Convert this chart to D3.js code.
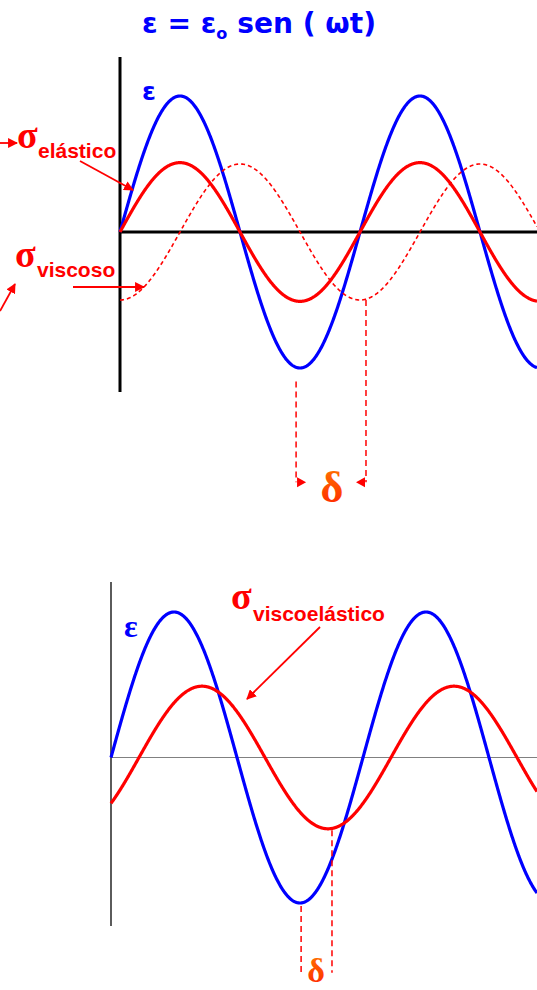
<!DOCTYPE html>
<html>
<head>
<meta charset="utf-8">
<script src="https://cdn.jsdelivr.net/npm/d3@7"></script>
<style>
  body { margin: 0; background: #fff; }
  svg { display: block; }
</style>
</head>
<body>
<svg id="chart"></svg>
<script>
// each curve is a sine in ωt: value = amplitude * sin(ωt + phase)
// top panel: strain, elastic stress, viscous stress
const topSeries = ["eps", "elastic", "viscous"];
const topAmplitude = [1, 0.51, 0.5];
const topPhaseDeg = [0, 0, -90];
// delta marker in top panel (ωt in rad, start value, end value)
const topDeltaT = [4.61, 6.44];
const topDeltaFrom = [-1.1, -0.5];
const topDeltaTo = -1.84;

// bottom panel: strain and viscoelastic stress
const botSeries = ["eps", "viscoelastic"];
const botAmplitude = [1, 0.49];
const botPhaseDeg = [0, -40];
const botDeltaT = [4.74, 5.51];
const botDeltaFrom = [-1.02, -0.5];
const botDeltaTo = -1.48;

const width = 537, height = 990;
const blue = "#0000ff", red = "#ff0000";
const style = {
  eps: {stroke: blue, width: 3.2, dash: null},
  elastic: {stroke: red, width: 3.2, dash: null},
  viscous: {stroke: red, width: 1.6, dash: "4,3"},
  viscoelastic: {stroke: red, width: 3.2, dash: null}
};

const svg = d3.select("#chart")
  .attr("width", width)
  .attr("height", height)
  .attr("viewBox", [0, 0, width, height]);

const defs = svg.append("defs");
defs.append("marker")
  .attr("id", "arrow")
  .attr("viewBox", "0 0 10 10")
  .attr("refX", 9).attr("refY", 5)
  .attr("markerWidth", 5.5).attr("markerHeight", 5.5)
  .attr("markerUnits", "strokeWidth")
  .attr("orient", "auto")
  .append("path")
  .attr("d", "M0,0L10,5L0,10z")
  .attr("fill", red);

// orange -> red fill of the delta glyphs
const grad = defs.append("linearGradient")
  .attr("id", "deltaFill")
  .attr("x1", 0).attr("y1", 0).attr("x2", 0).attr("y2", 1);
grad.append("stop").attr("offset", "0%").attr("stop-color", "#ff7a00");
grad.append("stop").attr("offset", "100%").attr("stop-color", "#ff2000");

const rad = d => d * Math.PI / 180;

function panel(g, opt) {
  const x = d3.scaleLinear([0, 2 * Math.PI], opt.xRange);
  const y = d3.scaleLinear([-1, 1], opt.yRange);
  const tMax = x.invert(width);
  const ts = d3.range(0, tMax, 0.01).concat([tMax]);

  // axes
  g.append("line")
    .attr("x1", x(0)).attr("x2", width)
    .attr("y1", y(0)).attr("y2", y(0))
    .attr("stroke", opt.hColor).attr("stroke-width", opt.hWidth);
  g.append("line")
    .attr("x1", x(0)).attr("x2", x(0))
    .attr("y1", opt.axisTop).attr("y2", opt.axisBottom)
    .attr("stroke", opt.vColor).attr("stroke-width", opt.vWidth);

  // curves
  opt.series.forEach((s, i) => {
    const A = opt.amp[i], ph = rad(opt.phase[i]);
    const line = d3.line()
      .x(t => x(t))
      .y(t => y(A * Math.sin(t + ph)));
    g.append("path")
      .datum(ts)
      .attr("d", line)
      .attr("fill", "none")
      .attr("stroke", style[s].stroke)
      .attr("stroke-width", style[s].width)
      .attr("stroke-dasharray", style[s].dash)
      .attr("stroke-linejoin", "round");
  });

  // delta dashed guides
  opt.deltaT.forEach((t, i) => {
    g.append("line")
      .attr("x1", x(t)).attr("x2", x(t))
      .attr("y1", y(opt.deltaFrom[i])).attr("y2", y(opt.deltaTo))
      .attr("stroke", red).attr("stroke-width", 1.5)
      .attr("stroke-dasharray", "6,4");
  });
  return {x, y};
}

// ---- top panel
const gTop = svg.append("g");
const topPanel = panel(gTop, {
  xRange: [120, 360], yRange: [368, 96],
  axisTop: 57, axisBottom: 392,
  hColor: "#000", hWidth: 3, vColor: "#000", vWidth: 3,
  series: topSeries, amp: topAmplitude, phase: topPhaseDeg,
  deltaT: topDeltaT, deltaFrom: topDeltaFrom, deltaTo: topDeltaTo
});

// arrowheads pointing inward at the bottom of the delta guides
const yArrow = topPanel.y(topDeltaTo);
[[topDeltaT[0], 1], [topDeltaT[1], -1]].forEach(([t, dir]) => {
  const x0 = topPanel.x(t) + dir * 1;
  gTop.append("path")
    .attr("d", `M${x0},${yArrow - 5}L${x0 + dir * 9},${yArrow}L${x0},${yArrow + 5}z`)
    .attr("fill", red);
});

// ---- bottom panel
const gBot = svg.append("g");
panel(gBot, {
  xRange: [111, 363], yRange: [903, 612],
  axisTop: 582, axisBottom: 926,
  hColor: "#808080", hWidth: 1.2, vColor: "#333", vWidth: 1.6,
  series: botSeries, amp: botAmplitude, phase: botPhaseDeg,
  deltaT: botDeltaT, deltaFrom: botDeltaFrom, deltaTo: botDeltaTo
});

// ---- text
const sans = "'Liberation Sans', Arial, sans-serif";
const serif = "'Liberation Serif', 'Times New Roman', serif";
const bold = "'DejaVu Sans', Verdana, sans-serif";

const title = svg.append("text")
  .attr("x", 142).attr("y", 33)
  .attr("font-family", bold).attr("font-weight", "bold")
  .attr("font-size", 28).attr("fill", blue)
  .attr("textLength", 234).attr("lengthAdjust", "spacingAndGlyphs");
title.append("tspan").text("ε = ε");
title.append("tspan").attr("font-size", 16).attr("dy", 6).text("o");
title.append("tspan").attr("dy", -6).text(" sen ( ωt)");

svg.append("text")
  .attr("x", 142).attr("y", 100)
  .attr("font-family", bold).attr("font-weight", "bold")
  .attr("font-size", 25).attr("fill", blue).text("ε");

function sigma(xs, ys, sub, xSub, ySub) {
  svg.append("text")
    .attr("x", xs).attr("y", ys)
    .attr("font-family", serif).attr("font-weight", "bold")
    .attr("font-size", 38).attr("fill", red).text("σ");
  svg.append("text")
    .attr("x", xSub).attr("y", ySub)
    .attr("font-family", sans).attr("font-weight", "bold")
    .attr("font-size", 21).attr("fill", red).text(sub);
}
sigma(17, 148, "elástico", 38, 158);
sigma(15, 267, "viscoso", 37, 277);
sigma(231, 609, "viscoelástico", 253, 621);

svg.append("text")
  .attr("x", 124).attr("y", 637)
  .attr("font-family", serif).attr("font-weight", "bold")
  .attr("font-size", 32).attr("fill", blue).text("ε");

svg.append("text")
  .attr("x", 332).attr("y", 502).attr("text-anchor", "middle")
  .attr("font-family", serif).attr("font-weight", "bold")
  .attr("font-size", 44).attr("fill", "url(#deltaFill)").text("δ");
svg.append("text")
  .attr("x", 316).attr("y", 982).attr("text-anchor", "middle")
  .attr("font-family", serif).attr("font-weight", "bold")
  .attr("font-size", 34).attr("fill", "url(#deltaFill)").text("δ");

// pointer arrows
const arrows = [
  [[0, 143], [17, 143]],
  [[80, 161], [133, 190]],
  [[73, 287], [144, 287]],
  [[0, 311], [15, 284]],
  [[320, 627], [247, 699]]
];
svg.append("g")
  .selectAll("line")
  .data(arrows)
  .join("line")
  .attr("x1", d => d[0][0]).attr("y1", d => d[0][1])
  .attr("x2", d => d[1][0]).attr("y2", d => d[1][1])
  .attr("stroke", red).attr("stroke-width", 1.8)
  .attr("marker-end", "url(#arrow)");
</script>
</body>
</html>
